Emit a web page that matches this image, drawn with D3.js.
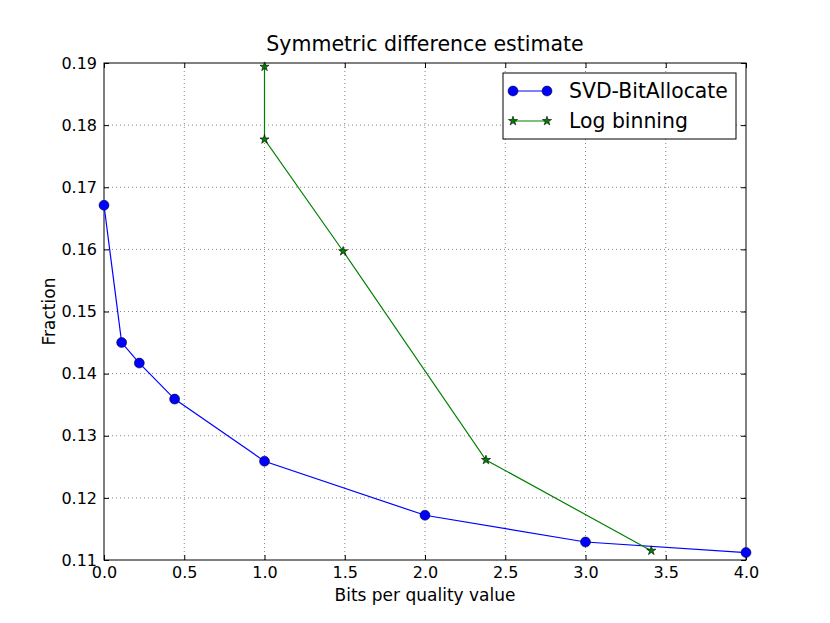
<!DOCTYPE html>
<html>
<head>
  <meta charset="utf-8">
  <title>Symmetric difference estimate</title>
  <script src="https://d3js.org/d3.v7.min.js"></script>
  <style>
    body { margin: 0; background: #fff; }
    text { font-family: "DejaVu Sans", sans-serif; fill: #000; }
  </style>
</head>
<body>
  <script>
    // data
    const svdBits = [0.0, 0.11, 0.22, 0.44, 1.0, 2.0, 3.0, 4.0];
    const svdFraction = [0.1671, 0.1450, 0.1417, 0.1359, 0.1259, 0.1172, 0.1129, 0.1112];
    const logBits = [1.0, 1.0, 1.49, 2.38, 3.41];
    const logFraction = [0.1894, 0.1777, 0.1597, 0.1261, 0.1115];
    const xTicks = [0.0, 0.5, 1.0, 1.5, 2.0, 2.5, 3.0, 3.5, 4.0];
    const yTicks = [0.11, 0.12, 0.13, 0.14, 0.15, 0.16, 0.17, 0.18, 0.19];
    const seriesNames = ["SVD-BitAllocate", "Log binning"];

    const W = 830, H = 623;
    const margin = {top: 63, right: 84, bottom: 63, left: 104};
    const width = W - margin.left - margin.right,
          height = H - margin.top - margin.bottom;

    const svg = d3.select("body").append("svg")
        .attr("width", W)
        .attr("height", H);

    const g = svg.append("g")
        .attr("transform", `translate(${margin.left},${margin.top})`);

    const x = d3.scaleLinear().domain([0, 4]).range([0, width]);
    const y = d3.scaleLinear().domain([0.11, 0.19]).range([height, 0]);

    // grid
    g.append("g").selectAll("line")
      .data(xTicks.slice(1, -1)).enter().append("line")
        .attr("x1", d => x(d)).attr("x2", d => x(d))
        .attr("y1", 0).attr("y2", height)
        .attr("stroke", "#888").attr("stroke-dasharray", "1,3");
    g.append("g").selectAll("line")
      .data(yTicks.slice(1, -1)).enter().append("line")
        .attr("x1", 0).attr("x2", width)
        .attr("y1", d => y(d)).attr("y2", d => y(d))
        .attr("stroke", "#888").attr("stroke-dasharray", "1,3");

    // axes, ticks pointing inward on all four sides
    const fmtX = d3.format(".1f"), fmtY = d3.format(".2f");
    const xAxis = g.append("g").attr("transform", `translate(0,${height})`)
        .call(d3.axisBottom(x).tickValues(xTicks).tickFormat(fmtX).tickSizeInner(-5).tickSizeOuter(0).tickPadding(7));
    const xAxisTop = g.append("g")
        .call(d3.axisTop(x).tickValues(xTicks).tickFormat("").tickSizeInner(-5).tickSizeOuter(0));
    const yAxis = g.append("g")
        .call(d3.axisLeft(y).tickValues(yTicks).tickFormat(fmtY).tickSizeInner(-5).tickSizeOuter(0).tickPadding(7));
    const yAxisRight = g.append("g").attr("transform", `translate(${width},0)`)
        .call(d3.axisRight(y).tickValues(yTicks).tickFormat("").tickSizeInner(-5).tickSizeOuter(0));
    [xAxis, xAxisTop, yAxis, yAxisRight].forEach(a => {
      a.select(".domain").remove();
      a.selectAll("text").style("font-family", "DejaVu Sans").style("font-size", "16px").attr("fill", "#000");
      a.selectAll("line").attr("stroke", "#000");
    });

    g.append("rect")
        .attr("width", width).attr("height", height)
        .attr("fill", "none").attr("stroke", "#000").attr("stroke-width", 1);

    // series
    const svd = svdBits.map((b, i) => [b, svdFraction[i]]);
    const logb = logBits.map((b, i) => [b, logFraction[i]]);
    const line = d3.line().x(d => x(d[0])).y(d => y(d[1]));

    g.append("path").datum(svd).attr("d", line)
        .attr("fill", "none").attr("stroke", "#0000ff").attr("stroke-width", 1.2);
    g.append("path").datum(logb).attr("d", line)
        .attr("fill", "none").attr("stroke", "#008000").attr("stroke-width", 1.2);

    const star = d3.symbol().type(d3.symbolStar).size(26);

    g.append("g").selectAll("circle").data(svd).enter().append("circle")
        .attr("cx", d => x(d[0])).attr("cy", d => y(d[1])).attr("r", 5)
        .attr("fill", "#0000ff").attr("stroke", "#000").attr("stroke-width", 0.5);
    g.append("g").selectAll("path").data(logb).enter().append("path")
        .attr("d", star)
        .attr("transform", d => `translate(${x(d[0])},${y(d[1])})`)
        .attr("fill", "#008000").attr("stroke", "#000").attr("stroke-width", 0.6);

    // labels
    svg.append("text").attr("x", margin.left + width / 2).attr("y", 51)
        .attr("text-anchor", "middle").style("font-size", "20.5px")
        .text("Symmetric difference estimate");
    svg.append("text").attr("x", margin.left + width / 2).attr("y", 601)
        .attr("text-anchor", "middle").style("font-size", "17px")
        .text("Bits per quality value");
    svg.append("text")
        .attr("transform", `translate(55,${margin.top + height / 2}) rotate(-90)`)
        .attr("text-anchor", "middle").style("font-size", "17px")
        .text("Fraction");

    // legend
    const lg = svg.append("g").attr("transform", "translate(503,73)");
    lg.append("rect").attr("width", 233).attr("height", 66)
        .attr("fill", "#fff").attr("stroke", "#000").attr("stroke-width", 1);
    seriesNames.forEach((name, i) => {
      const cy = 18 + i * 30;
      const col = i === 0 ? "#0000ff" : "#008000";
      lg.append("line").attr("x1", 10).attr("x2", 44).attr("y1", cy).attr("y2", cy)
          .attr("stroke", col).attr("stroke-width", 1.2);
      [10, 44].forEach(px => {
        if (i === 0) {
          lg.append("circle").attr("cx", px).attr("cy", cy).attr("r", 5)
              .attr("fill", col).attr("stroke", "#000").attr("stroke-width", 0.5);
        } else {
          lg.append("path").attr("d", star).attr("transform", `translate(${px},${cy})`)
              .attr("fill", col).attr("stroke", "#000").attr("stroke-width", 0.6);
        }
      });
      lg.append("text").attr("x", 66).attr("y", cy).attr("dy", "0.36em")
          .style("font-size", "20.4px").text(name);
    });
  </script>
</body>
</html>
